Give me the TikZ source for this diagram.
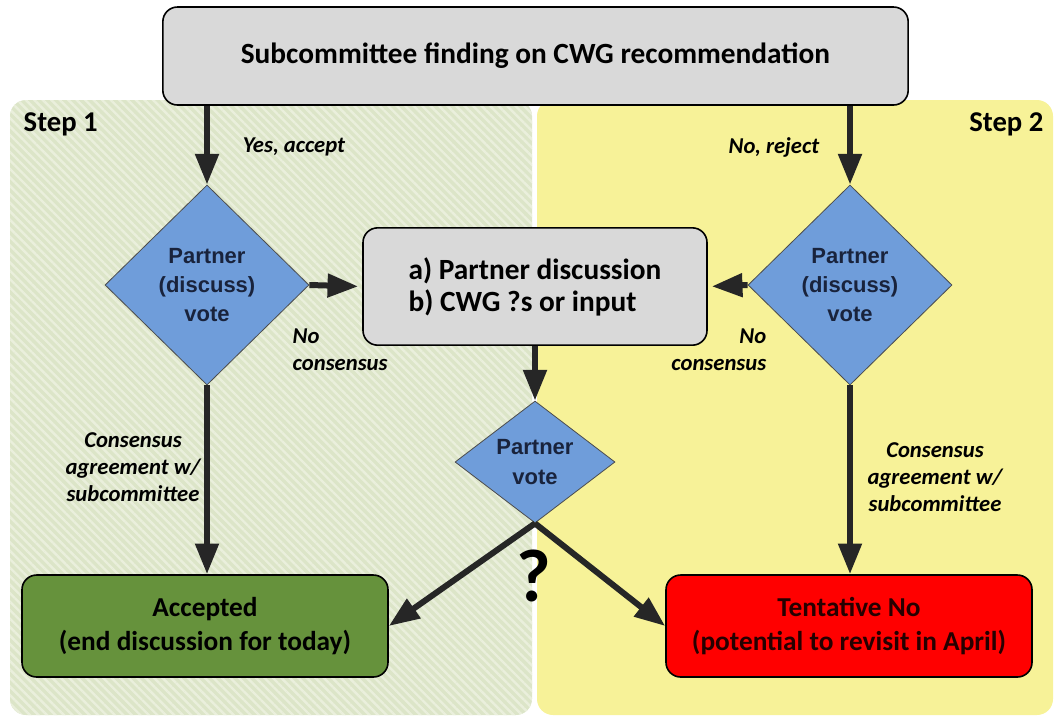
\documentclass[tikz,border=0pt]{standalone}
\usepackage{fontspec}
\setmainfont{Carlito}
\newfontfamily\arialfont{Liberation Sans}
\usetikzlibrary{shapes.geometric,arrows.meta,patterns.meta}
\definecolor{panelgreen}{RGB}{220,229,200}
\definecolor{stripegreen}{RGB}{234,239,220}
\definecolor{panelyellow}{RGB}{247,242,152}
\definecolor{boxgrey}{RGB}{217,217,217}
\definecolor{votefill}{RGB}{111,157,218}
\definecolor{votetext}{RGB}{25,35,60}
\definecolor{okgreen}{RGB}{102,146,60}
\definecolor{arrowgrey}{RGB}{38,38,38}
\newcommand{\px}{0.75pt}
\tikzset{
  flowbox/.style={draw=black, line width=1.2pt, rounded corners=11pt,
    font=\bfseries\fontsize{20.5}{25.5}\selectfont, align=center, inner sep=0pt},
  vote/.style={diamond, draw=black!70, line width=0.6pt, fill=votefill,
    text=votetext, font=\arialfont\bfseries\fontsize{16.5}{22}\selectfont,
    align=center, inner sep=0pt},
  flow/.style={draw=arrowgrey, line width=4.5pt,
    -{Triangle[length=23pt,width=17pt]}},
  choice/.style={font=\bfseries\itshape\fontsize{17}{20}\selectfont},
  steplabel/.style={font=\bfseries\fontsize{21.5}{24}\selectfont}
}

\begin{document}
\begin{tikzpicture}[x=\px,y=-\px]
	\useasboundingbox (0,0) rectangle (1059,719);

	% the two steps
	\fill[panelgreen, rounded corners=12pt] (10,100) rectangle (532,715);
	\path[pattern={Lines[angle=-45,distance=4.5pt,line width=1.8pt]}, pattern color=stripegreen, rounded corners=12pt] (10,100) rectangle (532,715);
	\fill[panelyellow, rounded corners=12pt] (537,100) rectangle (1053,715);
	\node[steplabel, anchor=west] (stepone) at (19,124) {Step 1};
	\node[steplabel, anchor=east] (steptwo) at (1048,124) {Step 2};

	\node[flowbox, fill=boxgrey, minimum width=559pt, minimum height=73.5pt, font=\bfseries\fontsize{22}{26}\selectfont] (finding) at (535.5,56) {Subcommittee finding on CWG recommendation};
	\node[flowbox, fill=boxgrey, minimum width=258pt, minimum height=88pt, align=left, font=\bfseries\fontsize{22}{24}\selectfont] (talk) at (535,286.5) {a) Partner discussion\\b) CWG ?s or input};
	\node[flowbox, fill=okgreen, minimum width=274.5pt, minimum height=76.5pt] (accepted) at (205,626) {Accepted\\(end discussion for today)};
	\node[flowbox, fill=red, text=black!85!red, minimum width=274.5pt, minimum height=76.5pt] (tentative) at (849,626) {Tentative No\\(potential to revisit in April)};

	\node[vote, minimum width=153pt, minimum height=150pt] (dleft) at (207,285) {Partner\\(discuss)\\vote};
	\node[vote, minimum width=153pt, minimum height=150pt] (dright) at (850,285) {Partner\\(discuss)\\vote};
	\node[vote, minimum width=120pt, minimum height=91.5pt] (dmid) at (535,462) {Partner\\vote};

	\draw[flow] (finding.south -| dleft) -- (dleft.north);
	\draw[flow] (finding.south -| dright) -- (dright.north);
	\draw[flow, shorten >=3pt] (dleft.east) -- (talk.west);
	\draw[flow, shorten >=3pt] (dright.west) -- (talk.east);
	\draw[flow] (talk.south) -- (dmid.north);
	\draw[flow] (dleft.south) -- (dleft.south |- accepted.north);
	\draw[flow] (dright.south) -- (dright.south |- tentative.north);
	\draw[flow] (dmid.south) -- (accepted.east);
	\draw[flow] (dmid.south) -- (tentative.west);

	\node[choice] (yes) at (294,147) {Yes, accept};
	\node[choice] (no) at (774,147) {No, reject};
	\node[choice, anchor=west, align=left] (nocleft) at (288,350) {No\\consensus};
	\node[choice, anchor=east, align=right] (nocright) at (771,350) {No\\consensus};
	\node[choice, align=center] (agreeleft) at (133,467) {Consensus\\agreement w/\\subcommittee};
	\node[choice, align=center] (agreeright) at (935,477) {Consensus\\agreement w/\\subcommittee};
	\node[font=\bfseries\fontsize{56}{56}\selectfont] (unsure) at (534,576) {?};
\end{tikzpicture}
\end{document}
